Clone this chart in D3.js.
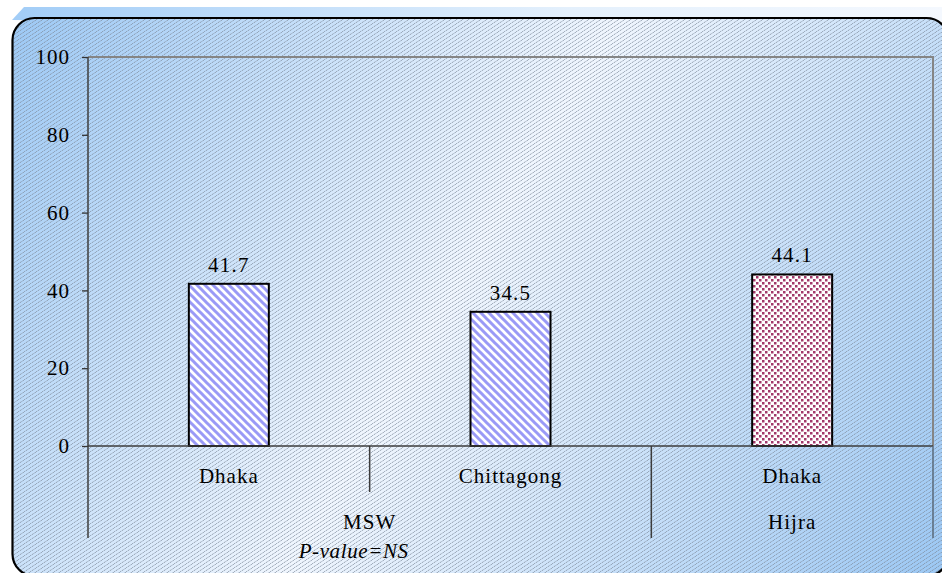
<!DOCTYPE html>
<html><head><meta charset="utf-8">
<script src="https://cdn.jsdelivr.net/npm/d3@7"></script>
<style>
html,body{margin:0;padding:0;background:#fff;}
svg{display:block;}
text{font-family:"Liberation Serif","Times New Roman",serif;fill:#000;}
</style></head>
<body>
<svg id="chart" width="942" height="573"></svg>
<script>
const categories = ["Dhaka", "Chittagong", "Dhaka"];
const groups = ["MSW", "MSW", "Hijra"];
const groupNames = ["MSW", "Hijra"];
const values = [41.7, 34.5, 44.1];
const valueLabels = ["41.7", "34.5", "44.1"];
const fills = ["stripe", "stripe", "dots"];
const yTicks = [0, 20, 40, 60, 80, 100];
const note = "P-value=NS";

const W = 942, H = 573;
const plot = {left: 88, right: 933, top: 57, bottom: 446};
const svg = d3.select("#chart");
const defs = svg.append("defs");

// gradients
const band = defs.append("linearGradient").attr("id", "bandGrad")
  .attr("x1", "0%").attr("y1", "0%").attr("x2", "100%").attr("y2", "0%");
band.append("stop").attr("offset", "0%").attr("stop-color", "#a2cdf7");
band.append("stop").attr("offset", "60%").attr("stop-color", "#e4f0fc");
band.append("stop").attr("offset", "100%").attr("stop-color", "#f4f8fe");

const bg = defs.append("linearGradient").attr("id", "bgGrad")
  .attr("gradientUnits", "userSpaceOnUse")
  .attr("x1", 12).attr("y1", 18).attr("x2", 942).attr("y2", 573);
bg.append("stop").attr("offset", "0%").attr("stop-color", "#9dc9f5");
bg.append("stop").attr("offset", "48%").attr("stop-color", "#f0f6fe");
bg.append("stop").attr("offset", "100%").attr("stop-color", "#9cc8f4");

// background hatch
const hatch = defs.append("pattern").attr("id", "hatch")
  .attr("patternUnits", "userSpaceOnUse").attr("width", 6).attr("height", 4);
hatch.append("line").attr("x1", -1.5).attr("y1", 5).attr("x2", 7.5).attr("y2", -1)
  .attr("stroke", "#7c8898").attr("stroke-width", 0.9).attr("stroke-dasharray", "1.2,0.8");

// stripe pattern for MSW bars
const stripe = defs.append("pattern").attr("id", "stripe")
  .attr("patternUnits", "userSpaceOnUse").attr("width", 8).attr("height", 8);
stripe.append("rect").attr("width", 8).attr("height", 8).attr("fill", "#fff");
stripe.append("path").attr("d", "M-2,-2 L10,10 M-2,6 L2,10 M6,-2 L10,2")
  .attr("stroke", "#9a9af6").attr("stroke-width", 3);

// dotted pattern for Hijra bar
const dots = defs.append("pattern").attr("id", "dots")
  .attr("patternUnits", "userSpaceOnUse").attr("width", 6).attr("height", 6);
dots.append("rect").attr("width", 6).attr("height", 6).attr("fill", "#fff");
dots.append("rect").attr("x", 0).attr("y", 0).attr("width", 2.5).attr("height", 2.5).attr("fill", "#a2386a");
dots.append("rect").attr("x", 3).attr("y", 3).attr("width", 2.5).attr("height", 2.5).attr("fill", "#a2386a");

// top shadow band
svg.append("path").attr("d", "M12,20 L24,7 L942,7 L942,30 Z").attr("fill", "url(#bandGrad)");

// chart area (rounded)
const rx = {x: 12.5, y: 18, w: 936, h: 558, r: 22};
svg.append("rect").attr("x", rx.x).attr("y", rx.y).attr("width", rx.w).attr("height", rx.h)
  .attr("rx", rx.r).attr("fill", "url(#bgGrad)");
svg.append("rect").attr("x", rx.x).attr("y", rx.y).attr("width", rx.w).attr("height", rx.h)
  .attr("rx", rx.r).attr("fill", "url(#hatch)").attr("stroke", "#000").attr("stroke-width", 2.2);

// scales
const x = d3.scaleBand().domain(d3.range(categories.length))
  .range([plot.left, plot.right]).paddingInner(0.716).paddingOuter(0.358);
const xb = d3.scaleLinear().domain([0, categories.length]).range([plot.left, plot.right]);
const y = d3.scaleLinear().domain([0, 100]).range([plot.bottom, plot.top]);

// plot area border (top & right)
svg.append("path")
  .attr("d", `M${plot.left},${y(100)} L${plot.right},${y(100)} L${plot.right},${plot.bottom}`)
  .attr("fill", "none").attr("stroke", "#858585").attr("stroke-width", 2);

// y axis
const yAxis = d3.axisLeft(y).tickValues(yTicks).tickSize(6).tickPadding(12).tickFormat(d3.format("d"));
const gy = svg.append("g").attr("transform", `translate(${plot.left},0)`).call(yAxis);
gy.select(".domain").remove();
gy.selectAll(".tick line").attr("stroke", "#333").attr("stroke-width", 1.3);
gy.selectAll(".tick text").attr("font-size", 21).attr("letter-spacing", "1px")
  .attr("font-family", "Liberation Serif, serif").attr("fill", "#000");

// bars
svg.append("g").selectAll("rect").data(values).join("rect")
  .attr("x", (d, i) => x(i))
  .attr("y", d => y(d))
  .attr("width", x.bandwidth())
  .attr("height", d => y(0) - y(d))
  .attr("fill", (d, i) => `url(#${fills[i]})`)
  .attr("stroke", "#000").attr("stroke-width", 2);

// value labels
svg.append("g").selectAll("text").data(values).join("text")
  .attr("x", (d, i) => x(i) + x.bandwidth() / 2)
  .attr("y", d => y(d) - 12)
  .attr("text-anchor", "middle").attr("font-size", 21).attr("letter-spacing", "1.2px")
  .text((d, i) => valueLabels[i]);

// axes lines
const axisColor = "#3c3c3c";
const multiBottom = 538;
svg.append("line").attr("x1", plot.left).attr("x2", plot.right)
  .attr("y1", plot.bottom).attr("y2", plot.bottom).attr("stroke", axisColor).attr("stroke-width", 1.5);
svg.append("line").attr("x1", plot.left).attr("x2", plot.left)
  .attr("y1", y(100)).attr("y2", multiBottom).attr("stroke", axisColor).attr("stroke-width", 1.5);

// category dividers
const boundaries = d3.range(1, categories.length + 1);
svg.append("g").selectAll("line").data(boundaries).join("line")
  .attr("x1", d => xb(d)).attr("x2", d => xb(d))
  .attr("y1", plot.bottom)
  .attr("y2", d => (d === categories.length || groups[d] !== groups[d - 1]) ? multiBottom : 492)
  .attr("stroke", d => d === categories.length ? "#5a6a7a" : axisColor).attr("stroke-width", 1.5);

// category labels
svg.append("g").selectAll("text").data(categories).join("text")
  .attr("x", (d, i) => x(i) + x.bandwidth() / 2)
  .attr("y", 483)
  .attr("text-anchor", "middle").attr("font-size", 21).attr("letter-spacing", "1px")
  .text(d => d);

// group labels
const groupCenters = groupNames.map(g => {
  const idx = d3.range(categories.length).filter(i => groups[i] === g);
  return (xb(d3.min(idx)) + xb(d3.max(idx) + 1)) / 2;
});
svg.append("g").selectAll("text").data(groupNames).join("text")
  .attr("x", (d, i) => groupCenters[i])
  .attr("y", 529)
  .attr("text-anchor", "middle").attr("font-size", 21).attr("letter-spacing", "1px")
  .text(d => d);

// note
svg.append("text").attr("x", groupCenters[0] - 16).attr("y", 558)
  .attr("text-anchor", "middle").attr("font-size", 21).attr("font-style", "italic")
  .attr("letter-spacing", "0.6px")
  .text(note);
</script>
</body></html>
